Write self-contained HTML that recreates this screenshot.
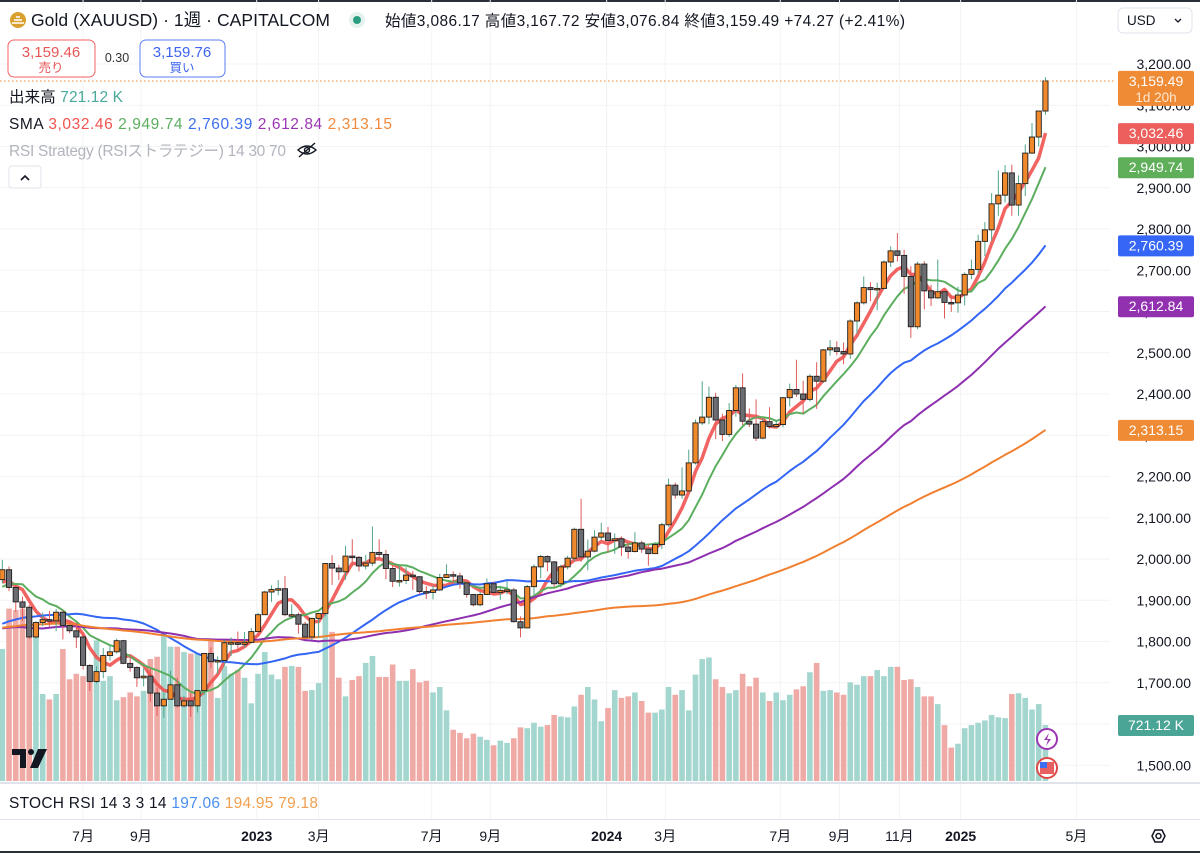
<!DOCTYPE html>
<html><head><meta charset="utf-8">
<style>
html,body{margin:0;padding:0;background:#fff;}
body{width:1200px;height:853px;overflow:hidden;font-family:"Liberation Sans","Noto Sans CJK JP",sans-serif;}
svg text{font-family:"Liberation Sans","Noto Sans CJK JP",sans-serif;}
</style></head>
<body>
<svg id="chart" width="1200" height="853" viewBox="0 0 1200 853" xmlns="http://www.w3.org/2000/svg">
<rect x="0" y="0" width="1200" height="853" fill="#fff"/>
<rect x="0" y="0" width="1200" height="2" fill="#2a2e39"/>
<g id="grid"></g>
<g id="volume"></g>
<g id="smas"></g>
<g id="candles"></g>
<line x1="0" y1="81" x2="1115" y2="81" stroke="#f0892a" stroke-width="1" stroke-dasharray="1.5,2.5"/>
<g id="axis"></g>
<g id="badges"></g>
<g id="timeaxis"></g>

<!-- header -->
<circle cx="18" cy="20" r="8" fill="#d9a030"/>
<path d="M12 23 h12 M14 20 h8 M16 17 h4" stroke="#fff" stroke-width="1.6"/>
<text x="31" y="26" font-size="17.5" fill="#131722" textLength="299" lengthAdjust="spacing">Gold (XAUUSD) · 1週 · CAPITALCOM</text>
<circle cx="357" cy="20" r="8" fill="#e3f2ee"/>
<circle cx="357" cy="20" r="4" fill="#2a9d80"/>
<text x="385" y="26" font-size="15.5" fill="#131722" textLength="520" lengthAdjust="spacing">始値3,086.17  高値3,167.72  安値3,076.84  終値3,159.49  +74.27 (+2.41%)</text>
<rect x="8" y="40" width="87" height="37" rx="6" fill="#fff" stroke="#f06262"/>
<text x="51" y="57" font-size="15" fill="#e85555" text-anchor="middle">3,159.46</text>
<text x="51" y="72" font-size="12.5" fill="#e85555" text-anchor="middle">売り</text>
<text x="117" y="62" font-size="12.5" fill="#333" text-anchor="middle">0.30</text>
<rect x="140" y="40" width="85" height="37" rx="6" fill="#fff" stroke="#5b7cf7"/>
<text x="182" y="57" font-size="15" fill="#3d63f0" text-anchor="middle">3,159.76</text>
<text x="182" y="72" font-size="12.5" fill="#3d63f0" text-anchor="middle">買い</text>
<text x="9" y="102" font-size="15.5" textLength="114" lengthAdjust="spacing"><tspan fill="#131722">出来高 </tspan><tspan fill="#4aa89a"> 721.12 K</tspan></text>
<text x="9" y="129" font-size="15.5" textLength="383" lengthAdjust="spacing"><tspan fill="#131722">SMA </tspan><tspan fill="#f05350"> 3,032.46</tspan><tspan fill="#5cae5f"> 2,949.74</tspan><tspan fill="#3d6ef0"> 2,760.39</tspan><tspan fill="#9c36b5"> 2,612.84</tspan><tspan fill="#f08a3e"> 2,313.15</tspan></text>
<text x="9" y="156" font-size="15.5" fill="#b2b5be" textLength="277" lengthAdjust="spacing">RSI Strategy (RSIストラテジー) 14 30 70</text>
<g fill="none" stroke="#131722" stroke-width="1.4">
<path d="M298 150 q9 -8 18 0 q-9 8 -18 0z"/><circle cx="307" cy="150" r="2.5"/><line x1="299" y1="157" x2="315" y2="143"/></g>
<rect x="9" y="166" width="32" height="22" rx="3" fill="#fff" stroke="#e0e3eb"/>
<path d="M21 180 l4 -4 l4 4" fill="none" stroke="#131722" stroke-width="1.6"/>
<!-- TV logo -->
<g>
<path d="M12 749 h14 v19 h-6 v-13 h-8z" fill="#131722"/><circle cx="31" cy="752" r="3" fill="#131722"/><path d="M38 749 h9 l-9 19 h-8z" fill="#131722"/></g>
<!-- event icons -->
<circle cx="1047" cy="739" r="10" fill="#fff" stroke="#9c36b5" stroke-width="2"/>
<path d="M1049 733 l-5 7 h4 l-2 6 l5 -7 h-4z" fill="#9c36b5"/>
<circle cx="1047" cy="768" r="10" fill="#fff" stroke="#e04848" stroke-width="2"/>
<rect x="1040" y="762" width="14" height="12" fill="#e86060"/>
<rect x="1040" y="762" width="7" height="6" fill="#3d6ef0"/>
<!-- stoch pane -->
<rect x="0" y="782" width="1200" height="2" fill="#e0e3eb"/>
<text x="9" y="808" font-size="15.5" textLength="309" lengthAdjust="spacing"><tspan fill="#131722">STOCH RSI 14 3 3 14 </tspan><tspan fill="#4a8ff0"> 197.06</tspan><tspan fill="#f0a050"> 194.95</tspan><tspan fill="#f0a050"> 79.18</tspan></text>
<rect x="0" y="819" width="1200" height="1" fill="#e0e3eb"/>
<rect x="0" y="851" width="1200" height="2" fill="#2a2e39"/>
<!-- USD -->
<rect x="1118" y="8" width="74" height="25" rx="5" fill="#fff" stroke="#e0e3eb"/>
<text x="1127" y="25" font-size="13.5" fill="#131722">USD</text>
<path d="M1175 19 l3 3 l3 -3" fill="none" stroke="#131722" stroke-width="1.3"/>
<g fill="none" stroke="#131722" stroke-width="1.5">
<path d="M1152 836 l3 -6 h7 l3 6 l-3 6 h-7z"/><circle cx="1158.5" cy="836" r="2.5"/></g>
</svg>
<script>
// ---- data ----
const history = [1735,1728,1683,1730,1743,1771,1775,1798,1809,1902,1975,2035,1944,1940,1964,1933,1940,1957,1862,1900,1900,1900,1902,1879,1951,1888,1871,1788,1839,1839,1881,1876,1895,1849,1828,1855,1848,1814,1824,1784,1734,1700,1727,1745,1733,1729,1743,1777,1777,1768,1831,1838,1881,1905,1891,1877,1764,1782,1783,1808,1815,1801,1814,1763,1780,1781,1817,1827,1787,1754,1750,1761,1757,1767,1793,1783,1818,1850,1846,1782,1784,1783,1798,1811,1829,1797,1818,1835,1792,1807,1857,1899,1889,1970,1987,1921,1958,1924,1945];
const firstOpen = 1950;
const closes = [1974,1931,1896,1883,1811,1846,1853,1850,1871,1839,1826,1811,1742,1703,1727,1766,1775,1802,1747,1737,1712,1716,1675,1644,1660,1695,1644,1656,1644,1681,1771,1751,1754,1797,1797,1793,1798,1824,
1865,1920,1926,1928,1865,1865,1842,1811,1856,1868,1989,1978,1969,2007,2004,1983,1990,2016,2011,1977,1946,1948,1961,1957,1921,1919,1925,1955,1962,1959,1942,1914,1889,1914,1940,1919,1924,1925,1848,1833,1933,1981,2006,1993,1940,1981,2002,2072,2005,2019,2053,2063,
2045,2049,2029,2018,2039,2024,2013,2035,2083,2179,2155,2165,2233,2330,2344,2392,2337,2302,2360,2415,2334,2327,2293,2333,2321,2326,2391,2411,2400,2387,2443,2431,2507,2512,2503,2497,2577,2621,2658,2653,2656,2720,2747,2736,2685,2563,2715,2650,2633,2648,2622,2621,2640,
2690,2702,2770,2798,2861,2882,2936,2858,2910,2984,3023,3086,3159];
const highs = [1998,1982,1937,1909,1889,1849,1870,1874,1879,1875,1847,1845,1815,1745,1740,1784,1792,1807,1804,1765,1740,1735,1735,1688,1676,1729,1712,1668,1675,1682,1772,1786,1764,1804,1810,1824,1823,1833,
1870,1923,1936,1949,1959,1890,1870,1848,1858,1870,1990,2009,1986,2032,2048,2007,2010,2079,2048,2022,1984,1983,1980,1971,1959,1934,1935,1964,1987,1970,1967,1947,1915,1920,1953,1945,1935,1947,1930,1861,1937,1987,2010,2009,1995,1986,2008,2076,2146,2047,2070,2088,
2078,2062,2055,2037,2065,2044,2036,2041,2088,2195,2185,2222,2265,2338,2431,2418,2403,2352,2378,2422,2450,2365,2387,2339,2368,2337,2393,2425,2483,2432,2448,2477,2509,2531,2528,2525,2581,2625,2685,2671,2670,2724,2758,2790,2750,2710,2721,2722,2665,2726,2652,2639,2660,
2695,2726,2786,2817,2887,2942,2955,2956,2930,3005,3057,3086,3168];
const lows = [1941,1922,1872,1850,1807,1807,1837,1836,1825,1805,1820,1784,1732,1680,1698,1711,1754,1771,1745,1727,1690,1691,1654,1620,1615,1659,1640,1640,1617,1628,1670,1735,1721,1741,1765,1776,1785,1795,
1824,1867,1896,1912,1861,1855,1819,1808,1804,1809,1861,1937,1949,1950,1982,1970,1975,1983,2000,1951,1932,1933,1939,1925,1915,1903,1902,1923,1955,1942,1928,1906,1885,1885,1913,1915,1901,1914,1846,1810,1832,1913,1953,1970,1933,1931,1975,1995,1993,1973,2016,2045,
2016,2013,2007,2001,2016,2015,1984,2013,2024,2078,2146,2146,2163,2229,2325,2327,2291,2286,2296,2345,2325,2320,2286,2290,2316,2318,2319,2370,2393,2353,2382,2364,2427,2493,2494,2472,2485,2546,2617,2625,2603,2654,2708,2721,2643,2536,2557,2605,2613,2631,2583,2599,2597,
2615,2678,2693,2734,2772,2832,2864,2832,2832,2880,2982,3000,3077];
const volumesK = [1700,2220,2200,2220,2030,1900,1120,1050,1120,1700,1310,1380,1350,1350,1810,1290,1350,1040,1080,1140,1090,1160,1570,1600,1910,1730,1730,1660,1640,1640,1470,1830,1070,1480,1380,1430,1330,1000,1380,1660,1370,1310,1470,1480,1470,1160,1170,1260,2160,1920,
1330,1090,1300,1350,1520,1610,1340,1340,1500,1290,1290,1440,1270,1290,1140,1210,910,660,620,550,610,570,530,460,520,490,550,690,680,750,700,720,850,830,820,960,1110,1210,1050,770,940,1170,1070,1090,1140,1030,880,880,920,1210,1110,
1170,910,1370,1570,1590,1310,1210,1130,1170,1380,1220,1330,1140,1030,1140,1040,1110,1180,1220,1400,1520,1160,1170,1140,1110,1270,1240,1350,1350,1430,1350,1470,1470,1300,1310,1210,1090,1090,990,720,430,480,680,720,750,780,850,820,810,1120,1130,1070,920,990,721];
const smaPeriods = [5,10,30,50,100];
const smaColors = ['#f05350','#5cae5f','#3366f5','#8e2fb0','#f08030'];
const priceTicks = [1500,1600,1700,1800,1900,2000,2100,2200,2300,2400,2500,2600,2700,2800,2900,3000,3100,3200];
const timeLabels = ['7月','9月','2023','3月','7月','9月','2024','3月','7月','9月','11月','2025','5月'];
const timeLabelIdx = [12,20.6,37.8,47,63.8,72.5,89.8,98.5,115.6,124.4,133.3,142.4,159.6];

// ---- scales ----
const NS='http://www.w3.org/2000/svg';
const yP = p => 559 - (p-2000)*0.4125;
const xI = i => 2.3 + 6.73*i;
const VOL_BASE = 781, VOL_K = 56/721;
function mk(tag, attrs, parent){const e=document.createElementNS(NS,tag);for(const k in attrs)e.setAttribute(k,attrs[k]);parent.appendChild(e);return e;}
const opens = closes.map((c,i)=> i===0 ? firstOpen : closes[i-1]);

// grid
const grid=document.getElementById('grid');
priceTicks.forEach(p=>{
  const l=mk('line',{x1:0,x2:1110,y1:yP(p),y2:yP(p),stroke:'#f2f3f5','stroke-width':1},grid);
  
  
});
timeLabelIdx.forEach(t=>{
  const l=mk('line',{x1:xI(t),x2:xI(t),y1:0,y2:819,stroke:'#f2f3f5','stroke-width':1},grid);
  
  
});

// volume
const vg=document.getElementById('volume');
volumesK.forEach((v,i)=>{
  const h=v*VOL_K, up=closes[i]>=opens[i];
  const r=mk('rect',{x:xI(i)-2.8,y:VOL_BASE-h,width:5.6,height:h,fill:up?'#a3d6ce':'#f0aaa6'},vg);
  
  
});

// SMAs
const all=history.concat(closes), off=history.length;
const sg=document.getElementById('smas');
smaPeriods.forEach((n,k)=>{
  const pts=[];
  for(let i=0;i<closes.length;i++){
    const end=off+i; let s=0,c=0;
    for(let j=Math.max(0,end-n+1);j<=end;j++){s+=all[j];c++;}
    pts.push(xI(i).toFixed(1)+','+yP(s/c).toFixed(1));
  }
  const pl=mk('polyline',{points:pts.join(' '),fill:'none',stroke:smaColors[k],'stroke-width':k===0?3.5:2,'stroke-linejoin':'round','stroke-opacity':k===0?0.9:1},sg);
  
  
});

// candles
const cg=document.getElementById('candles');
closes.forEach((c,i)=>{
  const o=opens[i], up=c>=o, x=xI(i);
  const w=mk('line',{x1:x,x2:x,y1:yP(highs[i]),y2:yP(lows[i]),stroke:up?'#52a58a':'#e05a5a','stroke-width':1},cg);
  
  
  const top=yP(Math.max(o,c)), bh=Math.max(1.5,yP(Math.min(o,c))-top);
  const b=mk('rect',{x:x-2.6,y:top,width:5.2,height:bh,fill:up?'#f0882c':'#6b6d73',stroke:'#1e1e1e','stroke-width':0.9},cg);
  
  
});

// price axis
const ag=document.getElementById('axis');
priceTicks.forEach(p=>{
  const t=mk('text',{x:1191,y:yP(p)+5,'font-size':14,fill:'#131722','text-anchor':'end'},ag);
  t.textContent=p.toLocaleString('en-US',{minimumFractionDigits:2});
  
  
});

// badges
const bg=document.getElementById('badges');
function badge(val,label,color,h){
  const y=yP(val);
  const r=mk('rect',{x:1118,y:y-10,width:76,height:h,rx:2,fill:color},bg);
  
  
  const t=mk('text',{x:1156,y:y+5,'font-size':14,fill:'#fff','text-anchor':'middle'},bg);
  t.textContent=label;
  
  
}
const last=closes[closes.length-1];
badge(last,'3,159.49','#ef8a35',35);
const cd=mk('text',{x:1156,y:yP(last)+21,'font-size':13.5,fill:'#fde7cf','text-anchor':'middle'},bg);
cd.textContent='1d 20h';


const smaLast=[3032.46,2949.74,2760.39,2612.84,2313.15];
const smaBadgeColors=['#ec5f5c','#5fae5a','#3566f6','#9131b0','#ef8a35'];
smaLast.forEach((v,k)=>badge(v,v.toLocaleString('en-US',{minimumFractionDigits:2}),smaBadgeColors[k],21));
const vb=mk('rect',{x:1118,y:715,width:76,height:21,rx:2,fill:'#4aa596'},bg);


const vt=mk('text',{x:1156,y:730,'font-size':14,fill:'#fff','text-anchor':'middle'},bg);
vt.textContent='721.12 K';



// time axis
const tg=document.getElementById('timeaxis');
timeLabels.forEach((s,k)=>{
  const bold=/^\d{4}$/.test(s);
  const t=mk('text',{x:xI(timeLabelIdx[k]),y:841,'font-size':14,fill:'#131722','text-anchor':'middle','font-weight':bold?'bold':'normal'},tg);
  t.textContent=s;
  
  
});
</script>
</body></html>
